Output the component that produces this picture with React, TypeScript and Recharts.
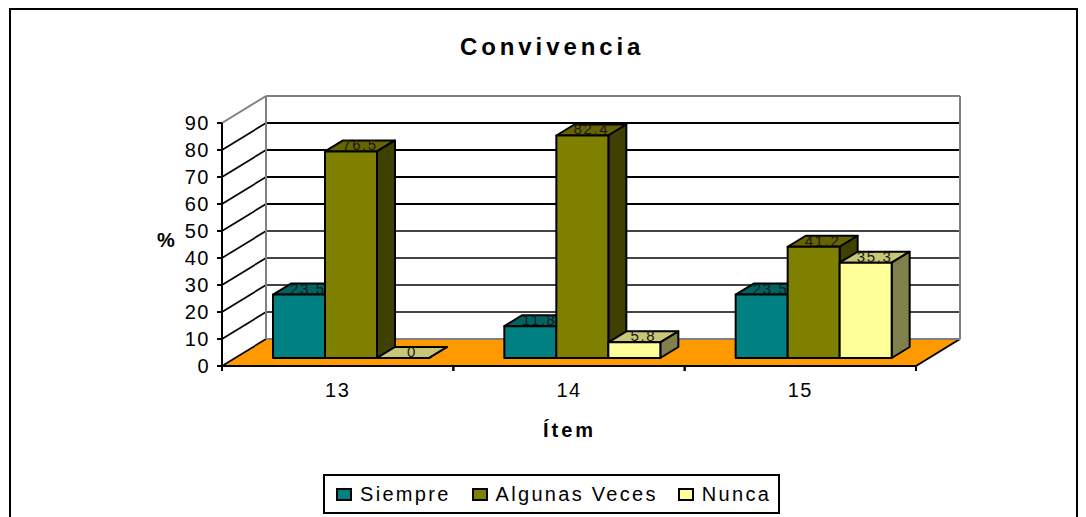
import React from 'react';
import { BarChart, Bar, XAxis, YAxis, CartesianGrid, Legend } from 'recharts';

const items = ['13', '14', '15'];
const siempre = [23.5, 11.8, 23.5];
const algunasVeces = [76.5, 82.4, 41.2];
const nunca = [0, 5.8, 35.3];
const yTicks = [0, 10, 20, 30, 40, 50, 60, 70, 80, 90];

const data = items.map((item, i) => ({
  item,
  siempre: siempre[i],
  algunasVeces: algunasVeces[i],
  nunca: nunca[i],
}));

const FONT = '"Liberation Sans", Arial, sans-serif';
const WIDTH = 1086;
const HEIGHT = 517;
const PLOT = { left: 222, right: 916, top: 123, bottom: 366 };

// depth of the chart box and of the bars (fake 3D, like the old Excel charts)
const WALL_DX = 44;
const WALL_DY = -27;
const BAR_SHIFT_X = 13;
const BAR_SHIFT_Y = -8;
const BAR_DX = 18;
const BAR_DY = -11;

const shade = (rgb: number[], k: number) =>
  `rgb(${rgb.map(c => Math.round(c * k)).join(',')})`;

const formatValue = (v: number) => String(v).replace('.', ',');

const make3DBar = (rgb: number[], dataKey: string) => (props: any) => {
  const x = props.x + BAR_SHIFT_X;
  const y = props.y + BAR_SHIFT_Y;
  const w = props.width;
  const h = props.height;
  const value = props.payload[dataKey];
  return (
    <g stroke="#000" strokeWidth={2} strokeLinejoin="round">
      <polygon
        points={`${x},${y} ${x + BAR_DX},${y + BAR_DY} ${x + w + BAR_DX},${y + BAR_DY} ${x + w},${y}`}
        fill={shade(rgb, 0.78)}
      />
      <polygon
        points={`${x + w},${y} ${x + w + BAR_DX},${y + BAR_DY} ${x + w + BAR_DX},${y + h + BAR_DY} ${x + w},${y + h}`}
        fill={shade(rgb, 0.5)}
      />
      <rect x={x} y={y} width={w} height={h} fill={shade(rgb, 1)} />
      <text
        x={x + w / 2 + BAR_DX / 2}
        y={y + BAR_DY / 2 + 0.5}
        textAnchor="middle"
        dominantBaseline="middle"
        fontSize={15}
        letterSpacing={1.6}
        fill="#1a1a1a"
        stroke="none"
      >
        {formatValue(value)}
      </text>
    </g>
  );
};

// each gridline runs along the side wall and then along the back wall
const renderGridLine = (props: any) => {
  const { x1, x2, y1, index } = props;
  const isTop = Math.abs(y1 - PLOT.top) < 1;
  const isFloor = Math.abs(y1 - PLOT.bottom) < 1;
  const backY = y1 + WALL_DY;
  const backColor = isTop || isFloor ? '#808080' : y1 > 250 ? '#444' : '#000';
  return (
    <g key={`grid-${index}`} fill="none">
      {isFloor && (
        <polygon
          points={`${x1},${y1} ${x1 + WALL_DX},${backY} ${x2 + WALL_DX},${backY} ${x2},${y1}`}
          fill="#ff9900"
          stroke="none"
        />
      )}
      {isFloor && <line x1={x2} y1={y1} x2={x2 + WALL_DX} y2={backY} stroke="#000" strokeWidth={2} />}
      {isTop && (
        <>
          <line x1={x1 + WALL_DX} y1={backY} x2={x1 + WALL_DX} y2={PLOT.bottom + WALL_DY} stroke="#808080" strokeWidth={2} />
          <line x1={x2 + WALL_DX} y1={backY} x2={x2 + WALL_DX} y2={PLOT.bottom + WALL_DY} stroke="#808080" strokeWidth={2} />
        </>
      )}
      <line x1={x1} y1={y1} x2={x1 + WALL_DX} y2={backY} stroke={isTop ? '#808080' : '#000'} strokeWidth={isTop ? 2 : 1.7} />
      <line x1={x1 + WALL_DX} y1={backY} x2={x2 + WALL_DX} y2={backY} stroke={backColor} strokeWidth={2} />
    </g>
  );
};

// ticks sit between the categories, not under them
const renderXTick = (props: any) => {
  const { x, y, payload } = props;
  const band = (PLOT.right - PLOT.left) / items.length;
  return (
    <g>
      <line x1={x - band / 2} y1={y - 8} x2={x - band / 2} y2={y - 3} stroke="#000" strokeWidth={2} />
      <line x1={x + band / 2} y1={y - 8} x2={x + band / 2} y2={y - 3} stroke="#000" strokeWidth={2} />
      <text x={x} y={y + 18} textAnchor="middle" dominantBaseline="middle" fontSize={20} letterSpacing={1.5} fill="#000">
        {payload.value}
      </text>
    </g>
  );
};

const legendGaps = [21, 20, 0];

const renderLegend = (props: any) => (
  <div
    style={{
      display: 'flex',
      alignItems: 'center',
      boxSizing: 'border-box',
      width: 457,
      height: 40,
      paddingLeft: 11,
      border: '2px solid #000',
      background: '#fff',
      fontSize: 20,
      letterSpacing: 2.3,
      color: '#000',
      whiteSpace: 'nowrap',
    }}
  >
    {props.payload.map((entry: any, i: number) => (
      <span key={entry.value} style={{ display: 'flex', alignItems: 'center', marginRight: legendGaps[i] }}>
        <span
          style={{
            display: 'inline-block',
            boxSizing: 'border-box',
            width: 16,
            height: 13,
            marginRight: 8,
            border: '2px solid #000',
            background: entry.color,
          }}
        />
        {entry.value}
      </span>
    ))}
  </div>
);

const App: React.FC = () => (
  <div
    style={{
      position: 'absolute',
      left: 0,
      top: 0,
      width: WIDTH,
      height: HEIGHT,
      overflow: 'hidden',
      background: '#fff',
      fontFamily: FONT,
    }}
  >
    <div
      style={{
        position: 'absolute',
        left: 9,
        top: 8,
        width: 1065,
        height: 520,
        border: '2px solid #000',
      }}
    />
    <div
      style={{
        position: 'absolute',
        left: 460,
        top: 33,
        whiteSpace: 'nowrap',
        fontSize: 24,
        fontWeight: 'bold',
        letterSpacing: 3.9,
        color: '#000',
      }}
    >
      Convivencia
    </div>
    <div style={{ position: 'absolute', left: 157, top: 229, fontSize: 20, fontWeight: 'bold', color: '#000' }}>%</div>
    <div
      style={{
        position: 'absolute',
        left: 543,
        top: 419,
        whiteSpace: 'nowrap',
        fontSize: 20,
        fontWeight: 'bold',
        letterSpacing: 3,
        color: '#000',
      }}
    >
      Ítem
    </div>
    <div style={{ position: 'absolute', left: 0, top: 0 }}>
      <BarChart
        width={WIDTH}
        height={HEIGHT}
        data={data}
        barGap={0}
        barCategoryGap={38}
        margin={{ left: 0, top: PLOT.top, right: WIDTH - PLOT.right, bottom: 0 }}
      >
        <CartesianGrid vertical={false} horizontal={renderGridLine} />
        <XAxis
          dataKey="item"
          height={HEIGHT - PLOT.bottom}
          axisLine={{ stroke: '#000', strokeWidth: 2 }}
          tickLine={false}
          tick={renderXTick}
          interval={0}
        />
        <YAxis
          width={PLOT.left}
          domain={[0, 90]}
          ticks={yTicks}
          interval={0}
          axisLine={{ stroke: '#000', strokeWidth: 2 }}
          tickLine={{ stroke: '#000', strokeWidth: 2 }}
          tickSize={5}
          tickMargin={7}
          tick={{ fontSize: 20, fill: '#000', letterSpacing: 1.5 }}
        />
        <Legend
          layout="horizontal"
          verticalAlign="middle"
          itemSorter={null}
          content={renderLegend}
          wrapperStyle={{ left: 323, top: 474, width: 457, bottom: 'auto' }}
        />
        <Bar dataKey="siempre" name="Siempre" fill="#008080" shape={make3DBar([0, 128, 128], 'siempre')} isAnimationActive={false} />
        <Bar dataKey="algunasVeces" name="Algunas Veces" fill="#808000" shape={make3DBar([128, 128, 0], 'algunasVeces')} isAnimationActive={false} />
        <Bar dataKey="nunca" name="Nunca" fill="#ffff99" shape={make3DBar([255, 255, 153], 'nunca')} isAnimationActive={false} />
      </BarChart>
    </div>
  </div>
);

export default App;
